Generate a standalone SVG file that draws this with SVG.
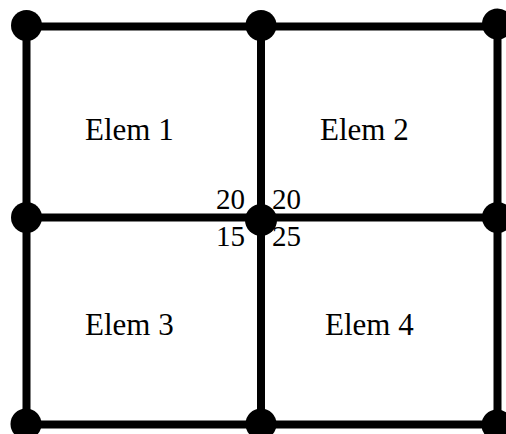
<svg xmlns="http://www.w3.org/2000/svg" width="506" height="434" viewBox="0 0 506 434">
<style>
.ln{stroke:#000;stroke-width:8;fill:none}
.nd{fill:#000}
.lbl{font-family:"Liberation Serif","Times New Roman",serif;font-size:31px;fill:#000}
.num{font-family:"Liberation Serif","Times New Roman",serif;font-size:29px;fill:#000}
</style>
<rect width="506" height="434" fill="#fff"/>
<g id="connectors">
<line class="ln" x1="26.5" y1="26.5" x2="497.5" y2="26.5"/>
<line class="ln" x1="26.5" y1="217.5" x2="497.5" y2="217.5"/>
<line class="ln" x1="26.5" y1="424.5" x2="497.5" y2="424.5"/>
<line class="ln" x1="26.5" y1="26.5" x2="26.5" y2="424.5"/>
<line class="ln" x1="261" y1="26.5" x2="261" y2="424.5"/>
<line class="ln" x1="497.5" y1="26.5" x2="497.5" y2="424.5"/>
</g>
<g id="n1"><circle class="nd" cx="26.5" cy="25.5" r="15.5"/></g>
<g id="n2"><circle class="nd" cx="261" cy="25.5" r="15.5"/></g>
<g id="n3"><circle class="nd" cx="497.5" cy="24" r="15.5"/></g>
<g id="n4"><circle class="nd" cx="26.5" cy="217.5" r="15.5"/></g>
<g id="n5"><circle class="nd" cx="261" cy="220" r="16"/></g>
<g id="n6"><circle class="nd" cx="497.5" cy="217.5" r="15.5"/></g>
<g id="n7"><circle class="nd" cx="26" cy="424" r="15.5"/></g>
<g id="n8"><circle class="nd" cx="261" cy="424" r="15.5"/></g>
<g id="n9"><circle class="nd" cx="497" cy="425" r="15.5"/></g>
<g id="elem1"><text class="lbl" x="85" y="140">Elem 1</text></g>
<g id="elem2"><text class="lbl" x="320" y="140">Elem 2</text></g>
<g id="elem3"><text class="lbl" x="85" y="335">Elem 3</text></g>
<g id="elem4"><text class="lbl" x="325" y="335">Elem 4</text></g>
<g id="values">
<text class="num" x="216" y="208.5">20</text>
<text class="num" x="272" y="208.5">20</text>
<text class="num" x="216" y="246">15</text>
<text class="num" x="272" y="246">25</text>
</g>
</svg>
